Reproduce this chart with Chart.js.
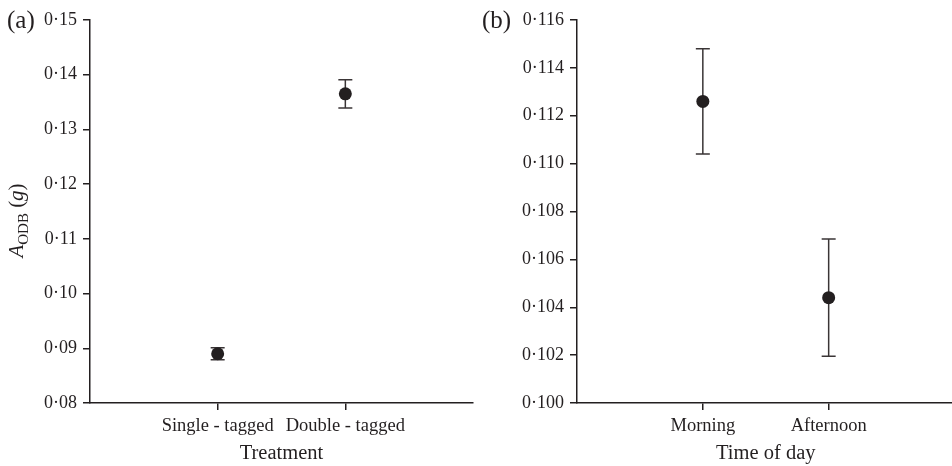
<!DOCTYPE html>
<html>
<head>
<meta charset="utf-8">
<script src="https://cdn.jsdelivr.net/npm/chart.js@4"></script>
<style>
  html, body { margin: 0; padding: 0; background: #fff; overflow: hidden; }
  #wrap { position: relative; width: 952px; height: 466px; overflow: hidden; }
  #panelA { position: absolute; left: 0; top: 0; }
  #panelB { position: absolute; left: 476px; top: 0; }
</style>
</head>
<body>
<div id="wrap">
  <canvas id="panelA" width="476" height="466"></canvas>
  <canvas id="panelB" width="486" height="466"></canvas>
</div>
<script>
// panel (a): treatment
var treatmentLabels = ['Single - tagged', 'Double - tagged'];
var treatmentMeans = [0.0890, 0.1365];
var treatmentErr = [0.0011, 0.0026];
var treatmentTicks = [0.08, 0.09, 0.10, 0.11, 0.12, 0.13, 0.14, 0.15];

// panel (b): time of day
var timeLabels = ['Morning', 'Afternoon'];
var timeMeans = [0.1126, 0.1044];
var timeErr = [0.0022, 0.00245];
var timeTicks = [0.100, 0.102, 0.104, 0.106, 0.108, 0.110, 0.112, 0.114, 0.116];

var ink = '#231f20';
var serif = '"Liberation Serif", "Times New Roman", serif';
Chart.defaults.font.family = serif;
Chart.defaults.color = ink;

// vertical error bars with caps, drawn under the dots
var errorBars = {
    id: 'errorBars',
    beforeDatasetsDraw: function(chart, args, opts) {
        var ctx = chart.ctx;
        var xs = chart.scales.x, ys = chart.scales.y;
        ctx.save();
        ctx.strokeStyle = '#3a3536';
        ctx.lineWidth = 1.5;
        for (var i = 0; i < opts.means.length; i++) {
            var x = xs.getPixelForValue(i + 1);
            var top = ys.getPixelForValue(opts.means[i] + opts.errs[i]);
            var bot = ys.getPixelForValue(opts.means[i] - opts.errs[i]);
            ctx.beginPath();
            ctx.moveTo(x, top); ctx.lineTo(x, bot);
            ctx.moveTo(x - 7, top); ctx.lineTo(x + 7, top);
            ctx.moveTo(x - 7, bot); ctx.lineTo(x + 7, bot);
            ctx.stroke();
        }
        ctx.restore();
    }
};

// panel letter and (optionally) the y title with subscript
var extraText = {
    id: 'extraText',
    afterDraw: function(chart, args, opts) {
        var ctx = chart.ctx;
        ctx.save();
        ctx.fillStyle = ink;
        ctx.textBaseline = 'middle';
        ctx.font = '25px ' + serif;
        ctx.fillText(opts.letter, opts.letterX, 21);
        if (opts.yTitle) {
            var cy = (chart.chartArea.top + chart.chartArea.bottom) / 2 + 9;
            ctx.translate(17, cy);
            ctx.rotate(-Math.PI / 2);
            ctx.textBaseline = 'alphabetic';
            var parts = [
                {t: 'A', f: 'italic 21px ' + serif, dy: 0},
                {t: 'ODB', f: '15px ' + serif, dy: 5},
                {t: ' (', f: '21px ' + serif, dy: 0},
                {t: 'g', f: 'italic 21px ' + serif, dy: 0},
                {t: ')', f: '21px ' + serif, dy: 0}
            ];
            var total = 0;
            parts.forEach(function(p) { ctx.font = p.f; total += ctx.measureText(p.t).width; });
            var x = -total / 2;
            parts.forEach(function(p) {
                ctx.font = p.f;
                ctx.fillText(p.t, x, 6 + p.dy);
                x += ctx.measureText(p.t).width;
            });
        }
        ctx.restore();
    }
};

function makePanel(id, labels, means, errs, ticks, digits, xTitle, yWidth, padRight, letter, letterX, yTitle) {
    var points = [];
    for (var i = 0; i < means.length; i++) {
        points.push({x: i + 1, y: means[i]});
    }
    return new Chart(document.getElementById(id), {
        type: 'scatter',
        data: {
            datasets: [{
                data: points,
                pointRadius: 6.5,
                pointHoverRadius: 6.5,
                backgroundColor: ink,
                borderColor: ink,
                borderWidth: 0
            }]
        },
        options: {
            responsive: false,
            animation: false,
            devicePixelRatio: 1,
            layout: {
                autoPadding: false,
                padding: { top: 20, right: padRight, left: 0, bottom: 0 }
            },
            plugins: {
                legend: { display: false },
                tooltip: { enabled: false },
                errorBars: { means: means, errs: errs },
                extraText: { letter: letter, letterX: letterX, yTitle: yTitle }
            },
            scales: {
                x: {
                    type: 'linear',
                    min: 0,
                    max: 3,
                    afterBuildTicks: function(scale) {
                        scale.ticks = labels.map(function(l, i) { return {value: i + 1}; });
                    },
                    afterFit: function(scale) {
                        scale.height = 63;
                        scale.paddingLeft = 0;
                        scale.paddingRight = 0;
                    },
                    ticks: {
                        callback: function(v) { return labels[v - 1]; },
                        font: { size: 18.5 },
                        color: ink,
                        padding: 5,
                        maxRotation: 0,
                        autoSkip: false
                    },
                    grid: {
                        drawOnChartArea: false,
                        drawTicks: true,
                        tickLength: 7,
                        color: ink,
                        lineWidth: 1.5
                    },
                    border: { color: ink, width: 1.5 },
                    title: {
                        display: true,
                        text: xTitle,
                        font: { size: 20.5 },
                        color: ink,
                        padding: { top: 0, bottom: 0 }
                    }
                },
                y: {
                    min: ticks[0],
                    max: ticks[ticks.length - 1],
                    afterBuildTicks: function(scale) {
                        scale.ticks = ticks.map(function(v) { return {value: v}; });
                    },
                    afterFit: function(scale) { scale.width = yWidth; },
                    ticks: {
                        callback: function(v) { return v.toFixed(digits).replace('.', '·'); },
                        font: { size: 18 },
                        color: ink,
                        padding: 6
                    },
                    grid: {
                        drawOnChartArea: false,
                        drawTicks: true,
                        tickLength: 7,
                        color: ink,
                        lineWidth: 1.5
                    },
                    border: { color: ink, width: 1.5 }
                }
            }
        },
        plugins: [errorBars, extraText]
    });
}

makePanel('panelA', treatmentLabels, treatmentMeans, treatmentErr, treatmentTicks, 2,
          'Treatment', 90, 3, '(a)', 7, true);
makePanel('panelB', timeLabels, timeMeans, timeErr, timeTicks, 3,
          'Time of day', 101, 7.5, '(b)', 6, false);
</script>
</body>
</html>
